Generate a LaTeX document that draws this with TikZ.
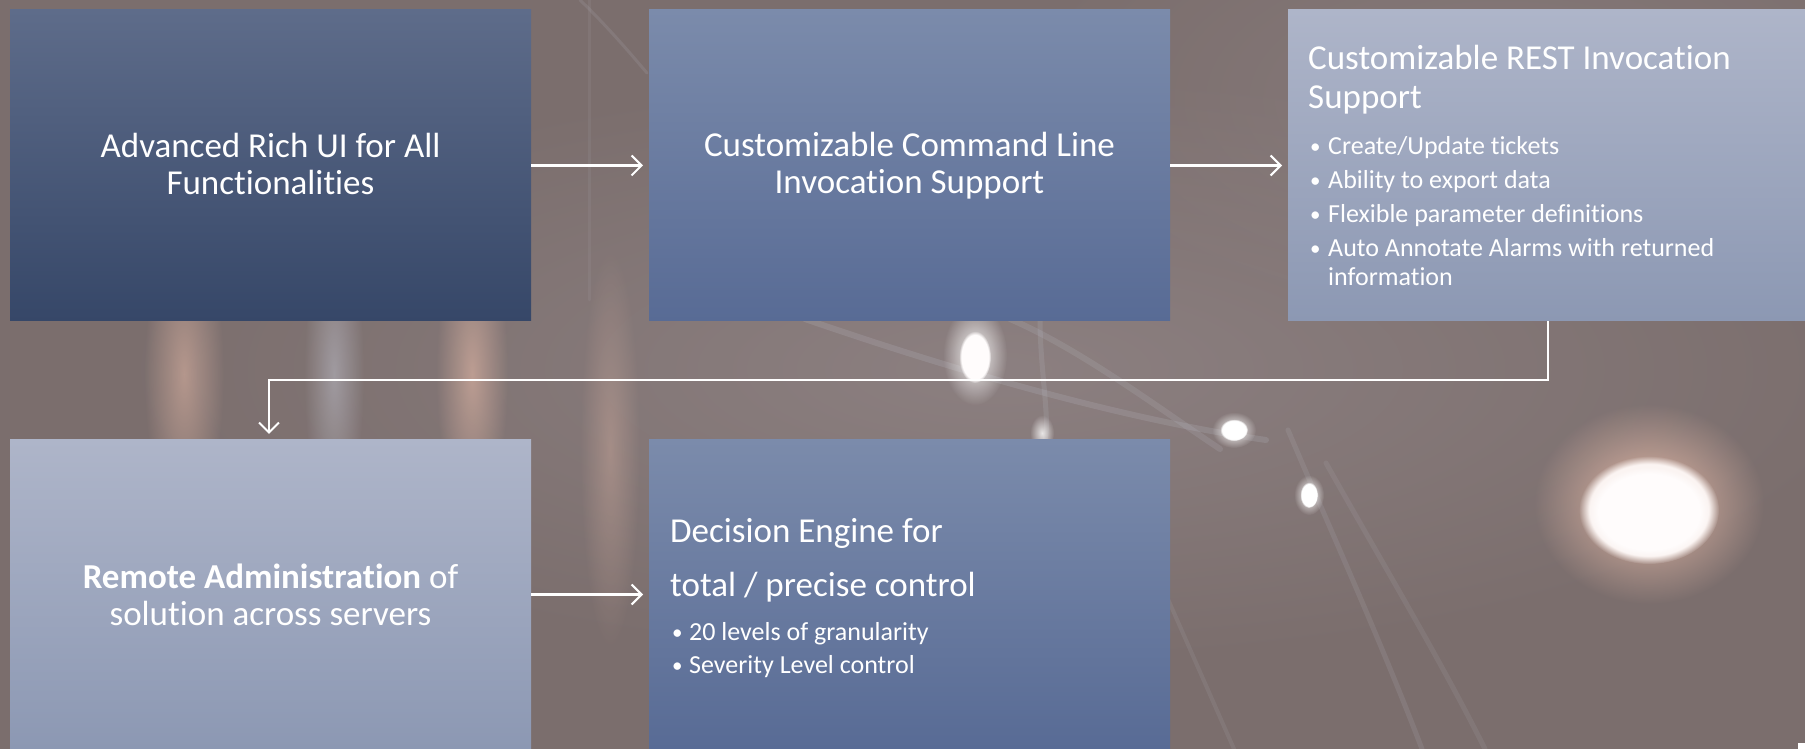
\documentclass[tikz,border=0pt]{standalone}
\usepackage{fontspec}
\setmainfont{Carlito}[Ligatures=NoCommon]
\usetikzlibrary{arrows.meta,fadings}
\definecolor{bg}{HTML}{7B6E6D}
\definecolor{bgl}{HTML}{8E8283}
\definecolor{aTop}{HTML}{5E6C8A}
\definecolor{aBot}{HTML}{364768}
\definecolor{bTop}{HTML}{7B8BAB}
\definecolor{bBot}{HTML}{586B95}
\definecolor{cTop}{HTML}{AEB5C9}
\definecolor{cBot}{HTML}{8C98B3}
\definecolor{warm}{HTML}{E3B8A6}
\definecolor{cool}{HTML}{C8CCD8}
\tikzfading[name=soft, inner color=transparent!0, outer color=transparent!100]
\begin{document}
\begin{tikzpicture}[x=1pt,y=1pt,
  panel/.style={rectangle, inner sep=0pt, outer sep=0pt, draw=none, text=white},
  dark/.style={panel, top color=aTop, bottom color=aBot},
  mid/.style={panel, top color=bTop, bottom color=bBot},
  light/.style={panel, top color=cTop, bottom color=cBot},
  toprow/.style={minimum height=311pt},
  botrow/.style={minimum height=309pt},
  big/.style={font=\fontsize{35}{37}\selectfont, text=white, inner sep=0pt},
  small/.style={font=\fontsize{26}{28}\selectfont, text=white, inner sep=0pt},
  dot/.style={font=\fontsize{21}{22}\selectfont, text=white, inner sep=0pt},
  glow/.style={path fading=soft},
  core/.style={path fading=circle with fuzzy edge 15 percent},
  streak/.style={cool, line cap=round},
  arr/.style={draw=white, line width=2.4pt, -{Straight Barb[length=10pt,width=20pt,line width=2pt]}, shorten >=6pt}
]
\useasboundingbox (0,0) rectangle (1805,749);
% background
\fill[bg] (0,0) rectangle (1805,749);
\fill[bgl, glow, opacity=0.9] (1000,380) ellipse (900 and 300);
\fill[bgl, glow, opacity=0.6] (1500,650) ellipse (500 and 250);
% vertical soft streaks between rows
\fill[warm, glow, opacity=0.55] (184,375) ellipse (40 and 150);
\fill[cool, glow, opacity=0.45] (334,375) ellipse (30 and 150);
\fill[warm, glow, opacity=0.6] (472,375) ellipse (36 and 150);
\fill[warm, glow, opacity=0.35] (610,300) ellipse (30 and 200);
% light streaks
\draw[streak, opacity=0.16, line width=6pt] (805,430) .. controls (950,380) and (1120,330) .. (1266,309);
\draw[streak, opacity=0.14, line width=6pt] (1010,430) .. controls (1080,400) and (1160,340) .. (1220,300);
\draw[streak, opacity=0.14, line width=5pt] (1040,430) .. controls (1040,380) and (1050,330) .. (1045,309);
\draw[streak, opacity=0.12, line width=5pt] (1288,319) .. controls (1330,220) and (1380,110) .. (1422,0);
\draw[streak, opacity=0.10, line width=5pt] (1326,286) .. controls (1380,190) and (1440,90) .. (1485,0);
\draw[streak, opacity=0.10, line width=4pt] (1167,152) -- (1234,0);
\draw[streak, opacity=0.08, line width=3pt] (589,749) -- (589,449);
\draw[streak, opacity=0.12, line width=3pt] (580,749) .. controls (610,720) and (635,690) .. (647,676);
% glows
\fill[warm, glow] (1649,245) ellipse (115 and 100);
\fill[white!85!warm, core] (1649,239) ellipse (70 and 54);
\fill[white!96!pink, core] (1649,237) ellipse (60 and 45);
\fill[white, glow, opacity=0.9] (975,394) ellipse (32 and 50);
\fill[white!95!pink, core] (975,392) ellipse (16 and 26);
\fill[white, glow, opacity=0.8] (1042,316) ellipse (12 and 18);
\fill[white, glow] (1234,319) ellipse (22 and 18);
\fill[white, core] (1234,319) ellipse (14 and 11);
\fill[white, glow] (1309,254) ellipse (15 and 20);
\fill[white, core] (1309,254) ellipse (9 and 13);
% boxes
\node[dark, toprow, minimum width=521pt] (b1) at (270.5,583.5) {};
\node[mid, toprow, minimum width=521pt] (b2) at (909.5,583.5) {};
\node[light, toprow, minimum width=517pt] (b3) at (1546.5,583.5) {};
\node[light, botrow, minimum width=521pt] (b4) at (270.5,154.5) {};
\node[mid, botrow, minimum width=521pt] (b5) at (909.5,154.5) {};
\fill[white] (1798,0) rectangle (1805,6);
% texts
\node[big, align=center] (t1) at ([yshift=2pt]b1.center) {Advanced Rich UI for All\\Functionalities};
\node[big, align=center] (t2) at (b2.center) {Customizable Command Line\\Invocation Support};
\node[big, align=center] (t4) at (b4.center) {\textbf{Remote Administration} of\\solution across servers};
\node[big, anchor=base west] (t3a) at (1308,679) {Customizable REST Invocation};
\node[big, anchor=base west] (t3b) at (1308,640) {Support};
\node[dot, anchor=base west] (d1) at (1310,595.5) {•};
\node[small, anchor=base west] (i1) at (1328,594.5) {Create/Update tickets};
\node[dot, anchor=base west] (d2) at (1310,561.5) {•};
\node[small, anchor=base west] (i2) at (1328,560.5) {Ability to export data};
\node[dot, anchor=base west] (d3) at (1310,527.5) {•};
\node[small, anchor=base west] (i3) at (1328,526.5) {Flexible parameter definitions};
\node[dot, anchor=base west] (d4) at (1310,493.5) {•};
\node[small, anchor=base west] (i4) at (1328,492.5) {Auto Annotate Alarms with returned};
\node[small, anchor=base west] (i5) at (1328,463.5) {information};
\node[big, anchor=base west] (t5a) at (670,206.5) {Decision Engine for};
\node[big, anchor=base west] (t5b) at (670,152.5) {total / precise control};
\node[dot, anchor=base west] (e1) at (672,109) {•};
\node[small, anchor=base west] (j1) at (689,108) {20 levels of granularity};
\node[dot, anchor=base west] (e2) at (672,76) {•};
\node[small, anchor=base west] (j2) at (689,75) {Severity Level control};
% connectors
\coordinate (turn) at (1548,369);
\draw[arr] (b1) -- (b2);
\draw[arr] (b2) -- (b3);
\draw[arr] (b4) -- (b5);
\draw[arr] (b3.south -| turn) -- (turn) -| ([xshift=-1.5pt]b4.north);
\end{tikzpicture}
\end{document}
